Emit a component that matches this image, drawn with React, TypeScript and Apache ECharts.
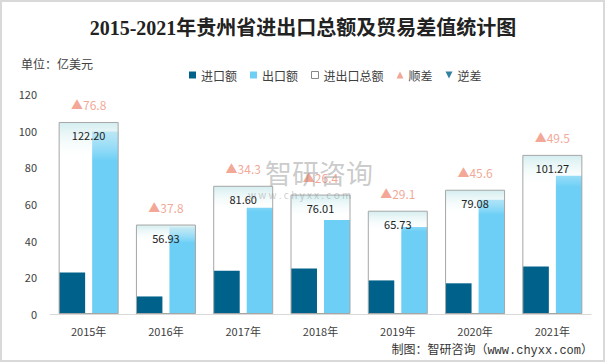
import React, { useEffect, useRef } from "react";
import * as echarts from "echarts";

const categories = ["2015年", "2016年", "2017年", "2018年", "2019年", "2020年", "2021年"];
const importValues = [22.7, 9.57, 23.65, 24.8, 18.32, 16.74, 25.89];
const exportValues = [99.5, 47.36, 57.95, 51.21, 47.41, 62.34, 75.38];
const totalValues = [122.2, 56.93, 81.6, 76.01, 65.73, 79.08, 101.27];
const balanceValues = [76.8, 37.8, 34.3, 26.4, 29.1, 45.6, 49.5];
const yTicks = { min: 0, max: 120, interval: 20 };
const totalAxisMax = 140;

const CJK = '"Noto Sans CJK SC", "Noto Sans", sans-serif';

export default function App() {
  const ref = useRef<HTMLDivElement>(null);
  useEffect(() => {
    document.body.style.margin = "0";
    const chart = echarts.init(ref.current!, null, { renderer: "svg" });
    const option: any = {
      animation: false,
      backgroundColor: "#ffffff",
      title: {
        text: "2015-2021年贵州省进出口总额及贸易差值统计图",
        left: "center",
        top: 13,
        textStyle: {
          fontSize: 20,
          fontWeight: "bold",
          color: "#222222",
          fontFamily: '"Liberation Serif", "Noto Sans CJK SC", serif',
        },
      },
      legend: {
        left: 184,
        top: 64,
        itemWidth: 7,
        itemHeight: 7,
        itemGap: 13,
        textStyle: { fontSize: 12, color: "#404040", fontFamily: CJK },
        data: [
          { name: "进口额", icon: "rect" },
          { name: "出口额", icon: "rect" },
          {
            name: "进出口总额",
            icon: "rect",
            itemStyle: { color: "#ffffff", borderColor: "#888888", borderWidth: 1 },
          },
          { name: "顺差", icon: "triangle", itemStyle: { color: "#f0907a" } },
          { name: "逆差", icon: "path://M0,0L10,0L5,10Z", itemStyle: { color: "#00628a" } },
        ],
      },
      grid: { left: 50, right: 15, top: 94, bottom: 49 },
      xAxis: [
        {
          type: "category",
          data: categories,
          axisLine: { lineStyle: { color: "#d9d9d9", width: 1 } },
          axisTick: { show: false },
          axisLabel: { fontSize: 11, color: "#404040", margin: 11, fontFamily: CJK },
        },
        {
          type: "category",
          data: categories,
          show: false,
        },
      ],
      yAxis: [
        {
          type: "value",
          min: yTicks.min,
          max: yTicks.max,
          interval: yTicks.interval,
          axisLine: { show: false },
          axisTick: { show: false },
          splitLine: { show: false },
          axisLabel: { fontSize: 11, color: "#404040", margin: 13, fontFamily: CJK },
        },
        {
          type: "value",
          min: 0,
          max: totalAxisMax,
          show: false,
          splitLine: { show: false },
        },
      ],
      series: [
        {
          name: "进口额",
          type: "bar",
          xAxisIndex: 0,
          yAxisIndex: 0,
          barWidth: 26,
          barGap: "27%",
          itemStyle: { color: "#00628a" },
          data: importValues,
          z: 2,
        },
        {
          name: "出口额",
          type: "bar",
          xAxisIndex: 0,
          yAxisIndex: 0,
          barWidth: 26,
          barGap: "27%",
          itemStyle: { color: "#6dcff6" },
          data: exportValues,
          z: 2,
        },
        {
          name: "进出口总额",
          type: "bar",
          xAxisIndex: 1,
          yAxisIndex: 1,
          barWidth: 60,
          z: 3,
          itemStyle: {
            color: new echarts.graphic.LinearGradient(0, 0, 0, 1, [
              { offset: 0, color: "rgba(208,236,238,0.92)" },
              { offset: 0.2, color: "rgba(255,255,255,0)" },
              { offset: 1, color: "rgba(255,255,255,0)" },
            ]),
            borderColor: "#a6a6a6",
            borderWidth: 1,
          },
          label: {
            show: true,
            position: "insideTop",
            distance: 8,
            fontSize: 11,
            color: "#222222",
            fontFamily: CJK,
            formatter: (p: any) => Number(p.value).toFixed(2),
          },
          data: totalValues,
        },
        {
          name: "顺差",
          type: "scatter",
          xAxisIndex: 1,
          yAxisIndex: 1,
          symbolSize: 0,
          itemStyle: { color: "#f0907a" },
          z: 4,
          label: {
            show: true,
            position: "top",
            distance: 11,
            fontSize: 12,
            color: "#f0907a",
            fontFamily: CJK,
            formatter: (p: any) => "▲" + balanceValues[p.dataIndex].toFixed(1),
          },
          data: totalValues,
        },
        {
          name: "逆差",
          type: "scatter",
          xAxisIndex: 1,
          yAxisIndex: 1,
          symbolSize: 0,
          itemStyle: { color: "#00628a" },
          data: [],
        },
      ],
      graphic: [
        {
          type: "rect",
          shape: { x: 1, y: 1, width: 603, height: 360 },
          style: { fill: "none", stroke: "#d9d9d9", lineWidth: 2 },
          silent: true,
          z: 100,
        },
        {
          type: "text",
          x: 21,
          y: 63,
          style: {
            text: "单位：亿美元",
            fontSize: 12,
            fill: "#404040",
            fontFamily: CJK,
            verticalAlign: "middle",
          },
        },
        {
          type: "text",
          x: 593,
          y: 351,
          style: {
            text: "制图：智研咨询（www.chyxx.com）",
            fontSize: 12,
            fill: "#333333",
            fontFamily: '"Liberation Mono", "Noto Sans CJK SC", monospace',
            align: "right",
            verticalAlign: "middle",
          },
        },
        {
          type: "text",
          x: 265,
          y: 172,
          z: 50,
          silent: true,
          style: {
            text: "智研咨询",
            fontSize: 27,
            fill: "rgba(140,140,140,0.45)",
            fontFamily: CJK,
            verticalAlign: "middle",
          },
        },
        {
          type: "text",
          x: 248,
          y: 194,
          z: 50,
          silent: true,
          style: {
            text: "w w w . c h y x x . c o m",
            fontSize: 10,
            fill: "rgba(140,140,140,0.45)",
            fontFamily: CJK,
            verticalAlign: "middle",
          },
        },
      ],
    };
    chart.setOption(option);
    return () => chart.dispose();
  }, []);
  return <div ref={ref} style={{ width: 606, height: 363 }} />;
}
